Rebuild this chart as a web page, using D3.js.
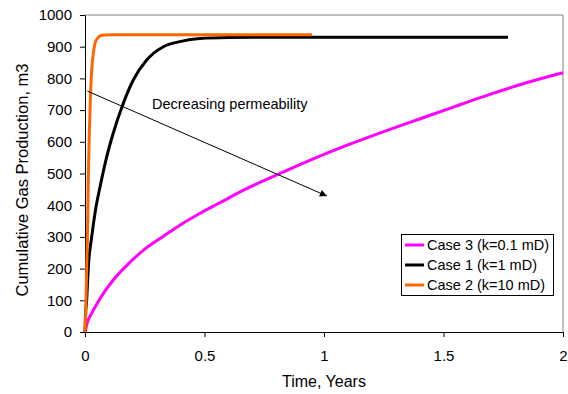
<!DOCTYPE html>
<html><head><meta charset="utf-8">
<script src="https://cdn.jsdelivr.net/npm/d3@7"></script>
<style>body{margin:0;background:#fff}svg{display:block;font-family:"Liberation Sans",Arial,sans-serif}</style>
</head><body><svg id="c" width="568" height="394"></svg>
<script>
const xTicks = [0, 0.5, 1, 1.5, 2];
const yTicks = [0,100,200,300,400,500,600,700,800,900,1000];
const case2T = [0,0.003,0.007,0.0097,0.014,0.021,0.028,0.035,0.042,0.052,0.063,0.08,0.12,0.3,0.6,0.95];
const case2V = [0,60,200,280,490,700,826,880,911,926,934,937,938,938,938,938];
const case1T = [0,0.002,0.007,0.014,0.028,0.045,0.063,0.09,0.118,0.16,0.202,0.258,0.328,0.397,0.481,0.6,0.8,1.2,1.77];
const case1V = [0,50,101,206,300,390,458,550,627,721,795,858,900,916,926,929,930,930,930];
const case3T = [0,0.01,0.03,0.06,0.118,0.188,0.258,0.33,0.397,0.48,0.56,0.676,0.816,0.955,1.1,1.25,1.4,1.55,1.7,1.85,2.0];
const case3V = [0,30,62,102,164,220,266,303,337,374,406,452,500,546,590,632,672,712,751,787,818];
const seriesNames = ["Case 3 (k=0.1 mD)","Case 1 (k=1 mD)","Case 2 (k=10 mD)"];
const arrowFrom = [0.01, 760], arrowTo = [1.012, 429];
const annotation = "Decreasing permeability";

const svg = d3.select("#c");
const x = d3.scaleLinear().domain([0,2]).range([85,563]);
const y = d3.scaleLinear().domain([0,1000]).range([332,15]);

svg.append("path").attr("d",`M85,15H563V332`).attr("fill","none").attr("stroke","#808080").attr("stroke-width",1);

const gx = svg.append("g").attr("transform","translate(0,332)")
  .call(d3.axisBottom(x).tickValues(xTicks).tickFormat(d3.format("")).tickSize(5).tickSizeOuter(0));
const gy = svg.append("g").attr("transform","translate(85,0)")
  .call(d3.axisLeft(y).tickValues(yTicks).tickFormat(d3.format("d")).tickSize(5).tickSizeOuter(0));
[gx,gy].forEach(g=>{g.selectAll("path,line").attr("stroke","#000");g.selectAll("text").attr("font-size",15).attr("fill","#000").attr("font-family","Liberation Sans, Arial, sans-serif");});
gx.selectAll("text").attr("dy","1.4em");
gy.selectAll("text").attr("dx","-5px");

svg.append("text").attr("x",324).attr("y",387).attr("text-anchor","middle").attr("font-size",16).text("Time, Years");
svg.append("text").attr("transform","translate(28,180) rotate(-90)").attr("text-anchor","middle").attr("font-size",16.5).text("Cumulative Gas Production, m3");

const line = d3.line().x(d=>x(d[0])).y(d=>y(d[1])).curve(d3.curveMonotoneX);
const series = [
  {t:case3T,v:case3V,c:"#FF00FF"},
  {t:case1T,v:case1V,c:"#000000"},
  {t:case2T,v:case2V,c:"#FF6600"}
];
series.forEach(s=>{
  svg.append("path").datum(s.t.map((t,i)=>[t,s.v[i]])).attr("d",line)
    .attr("fill","none").attr("stroke",s.c).attr("stroke-width",3).attr("stroke-linejoin","round");
});

svg.append("defs").append("marker").attr("id","ah").attr("viewBox","0 0 10 10").attr("refX",10).attr("refY",5)
  .attr("markerWidth",9).attr("markerHeight",7).attr("markerUnits","userSpaceOnUse").attr("orient","auto")
  .append("path").attr("d","M0,0L10,5L0,10z").attr("fill","#000");
svg.append("line").attr("x1",x(arrowFrom[0])).attr("y1",y(arrowFrom[1])).attr("x2",x(arrowTo[0])).attr("y2",y(arrowTo[1]))
  .attr("stroke","#000").attr("stroke-width",1).attr("marker-end","url(#ah)");
svg.append("text").attr("x",152).attr("y",109).attr("font-size",14.5).text(annotation);

const lg = svg.append("g");
lg.append("rect").attr("x",401.5).attr("y",234.5).attr("width",152).attr("height",61).attr("fill","#fff").attr("stroke","#000");
const legendColors = ["#FF00FF","#000000","#FF6600"];
seriesNames.forEach((n,i)=>{
  const yy = 245 + i*20;
  lg.append("line").attr("x1",405).attr("x2",424).attr("y1",yy).attr("y2",yy).attr("stroke",legendColors[i]).attr("stroke-width",3);
  lg.append("text").attr("x",427).attr("y",yy+5).attr("font-size",14.5).text(n);
});
</script></body></html>
